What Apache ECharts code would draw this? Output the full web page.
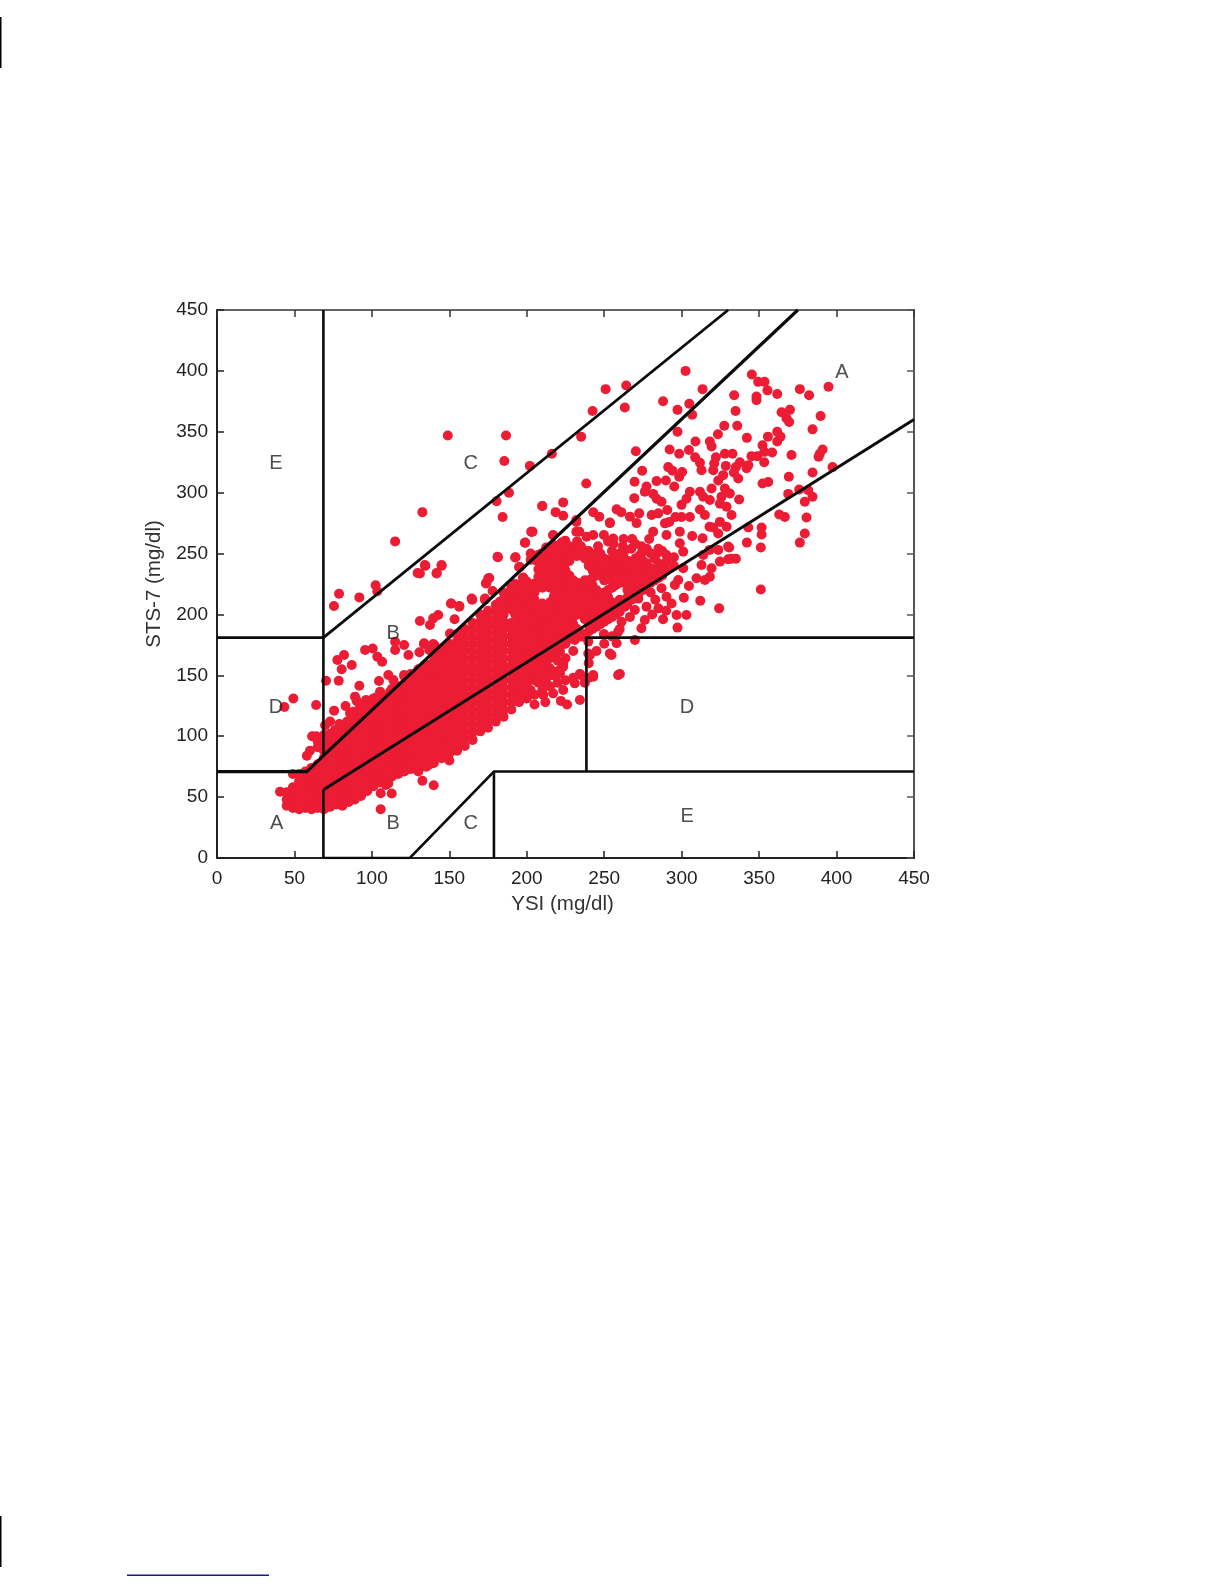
<!DOCTYPE html>
<html><head><meta charset="utf-8">
<style>html,body{margin:0;padding:0;background:#fff}#c{width:1224px;height:1584px}</style>
<script src="https://cdn.jsdelivr.net/npm/echarts@6/dist/echarts.min.js"></script>
</head><body><div id="c"></div>
<script>
var xName="YSI (mg/dl)", yName="STS-7 (mg/dl)";
// individually visible points
var sparsePoints=[[149,347],[186.6,347],[185.5,326],[202,322],[180.5,293],[188.5,300],[184.4,280],[132.6,284],[115,260],[134.5,240],[129.5,234],[141.8,234],[145,240],[102.4,224],[103.5,219],[78.8,217],[91.9,214],[75.5,207],[210,289],[203,268],[199,259],[181.4,247],[192.8,247],[195.6,239],[175.8,230],[174,226],[151.3,209],[156.5,207],[164.8,212],[173,212],
[302.5,400],[313.5,385],[345.3,397],[349.4,391],[353.5,391],[355.4,384],[361.7,381],[376.3,385],[382.3,380],[394.8,387],[333.9,380],[348.3,379],[348.3,376],[288,375],[304.9,373],[264.2,388],[250.9,385],[242.5,367],[263.3,370],[297.3,368],[306.8,364],[334.8,367],[369.9,368],[364.5,366],[367.7,361],[369.4,358],[389.7,363],[327.5,355],[335.9,355],[384.5,352],[235.1,346],[297.3,350],[323.4,348],[361.7,350],[363.8,346],[361.7,342],[355.7,346],[342.1,345],[308.9,342],[318.2,342],[319.3,338],[352.2,339],[353.3,333.5],[358.4,333],[304.7,335],[292.2,335.5],[270.4,334],[216.2,332],[298.4,332],[327.9,332],[332.8,332],[370.9,331],[391,335.5],[389.2,332],[388.4,329.5],[345.1,330],[348.8,330],[308.7,329],[322.1,329],[311.8,324.5],[321,324],[353.3,325],[337.6,325],[343,322.6],[328.5,322],[335,321],[312.8,318.5],[320.4,318.5],[274.5,318],[291.3,321],[294.1,318],[300.3,317],[384.5,316.6],[397.4,321],[333.7,316.6],[341.9,320],[298.4,313],[336.5,311.7],[369.2,313],[326.8,314.4],[323.6,310],[283.8,309.5],[289.8,310],[269.6,309],[355.9,308.7],[352.2,307.6],[238.4,307.6],[295.2,305],[277.3,305],[276.2,300.7],[319.3,303.4],[327.9,303.4],[281.6,299],[283.8,295],[287,292.5],[269.4,295.5],[305.3,300.7],[311.8,300.7],[303.1,295],[299.9,290],[313.9,296.6],[318.2,294],[325.7,296.6],[331.1,299.3],[337.1,294.4],[368.8,299],[375.9,302.6],[381.7,302],[384.5,296.6],[379.5,292.5],[324.7,291],[329,288.4],[332.2,281.6],[366.6,280],[363,282],[380.6,279.6],[379.5,266.5],[376.3,259],[343,271.4],[351.6,271.4],[351.6,265.7],[320.4,271.4],[324.7,276],[329,272],[323.6,266.5],[318,272],[342.1,259],[351.1,255],[330.7,255],[332.2,245.7],[335,245.7],[351.1,220.5],
[210,289],[223.5,292],[218.6,284],[223.5,281],[258,286.3],[261,284],[266.6,280.3],[272.6,283],[270.9,275],[253.6,275.4],[242.9,283.9],[246.8,280.3],[280.6,281.7],[284.9,283],[290.7,285.8],[289.2,274.8],[281.6,268],[290.2,265.3],[298.8,268],[306.8,264.4],[313.5,262.5],[298.8,258.4],[301,251.6],[232,276],[233.9,268],[224.8,260.3],[203.7,268],[217,265.3],[330,255.7],[330,245.3],[311.8,286.2],[315,281.6],[305.3,280],[299.9,280],[296,280],[292,276],[268,262],[274,256],[279,262],[284,250],[274,250],[262,256],[256,258],[246,256],
[313.9,248.8],[318,253],[323.6,253],[324.7,243.4],[319.3,237.9],[312.8,240.6],[309.6,229.7],[315,228.3],[318.2,231],[301,238],[297.8,228.3],[295.6,224.2],[304.7,223.4],[301.4,213.8],[312,211.3],[324.2,205],[297.3,189.2],[303.1,199.6],[296.7,199.6],[288,196],[293.5,209],[290.2,214.6],[287,221.5],[277.3,206.4],[276.2,195.5],[274,188.6],[269.8,179],[266.6,198],[269.8,203.7],[263.3,206.4],[261.2,194],[259,185.9],[258,176.3],[253.6,168],[260.1,151.1],[249.8,184],[239.7,177.7],[239.7,168],[242.9,150.3],[234.3,151.1],[223.5,159.9],[221.4,169.5],[231,179],[235.4,181.8],[207.4,162.6],[214.9,155.8],[218,153],[221.4,151.7],[223.5,157],[283,212],[280,218],[285,205],[281,200],[272,213],[290,203],
[49.3,131],[43.5,124],[64,125.6],[61.4,100],[70.4,145.6],[78.6,145.6],[75.6,121],[80.5,155],[77.7,162.6],[82,166.7],[87,158.5],[91.9,141.5],[89.1,132.5],[90.2,129],[83,124.8],[85.9,118.8],[82.9,107.3],[76.2,105],[69.8,109],[95.6,170.8],[100.5,172],[103.5,165.3],[106.6,161.2],[104.6,145.3],[110.6,150.3],[113.9,146.2],[115,177.6],[120.8,174.9],[115,170.8],[123.6,166.7],[130.7,168.9],[120.8,150.3],[133.7,176.3],[140.3,174.9],[96.2,129.7],[105.3,136.6],[111.7,136.6],[98.8,125.6],[94.5,118.8],[90.6,113.3],[64,100],[66,92],[60,88],[58,84],[73,112],[79,110],[84,112],[88,120],[92,126],[96,122],[100,130],[103,132],
[132.6,63.5],[139.9,59.7],[105.7,53.1],[105.7,40],[112.8,53],[110.6,61.3],[136.5,76.4],[138.6,77.7],[40.7,54.5],
[203,268],[198.8,258.9],[181.1,247.4],[192.5,246.8],[195,239],[134.2,240.5],[145,240.5],[141.8,233.7],[131,233.7],[175.1,229.6],[173.6,225.5],[164.4,213],[173,213],[151,209],[156.4,206.3],[142.8,199.5],[139.6,196.8],[137.5,191.3],[153.4,196],[131,194.6],[150.4,184.4],[133.6,175.7],[139.6,175.7],[137,170.8],[177.9,219.2],[187,214],[182.6,210.4],[197.7,230.4],[194.5,220],[199.9,221.4],[205.2,225.5],[209.5,250],[217,250],[212.3,241.9],[221.4,244.7],[217,265],[224.8,260.5],[232,267.9],[238.6,263.8],[242.9,265.2],[249.8,265.2],[255.8,262.4],[253.7,275],[232,277.5],
[221.4,154.3],[223.5,158.4],[234.3,150.8],[242.9,148.9],[237.5,144],[254.7,166.7],[240.8,166.7],[259,150.2],[231,143.4],[223.5,137.9],[217,135.2],[210.6,133.8],[203,135.2],[199.9,140.6],[195.6,135.2],[219.2,168],[212.8,157],[206.3,149],[210.6,143.4],[234.3,129.7],[191.3,131.1],[212,128],[226,126],[222,129],[205,126],[240,148]];
// dense mass: columns of estimated values, one x with its y values
var denseColumns=[
[45,[43,48,54]],[49,[41,46,52,58,69]],[53,[40,45,51,57,63,69]],[57,[41,47,53,59,65,71]],[61,[40,45,51,57,63,69,74]],
[65,[41,47,53,59,65,71,77,91,96]],[69,[40,46,52,58,64,70,76,82,88,95,101]],[73,[42,48,54,60,66,72,78,84,90,96,102]],
[77,[44,50,56,62,68,74,80,86,92,98]],[81,[43,49,55,61,67,73,79,85,91,97,103,109]],[85,[46,52,58,64,70,76,82,88,94,100,106,112]],
[89,[48,54,60,66,72,78,84,90,96,102,108,114]],[93,[51,57,63,69,75,81,87,93,99,105,111,117,123]],[97,[55,61,67,73,79,85,91,97,103,109,115,121]],
[101,[59,65,71,77,83,89,95,101,107,113,119,125,131]],[105,[62,68,74,80,86,92,98,104,110,116,122,128]],[109,[60,66,72,78,84,90,96,102,108,114,120,126,132]],
[113,[67,73,79,85,91,97,103,109,115,121,127,133,139]],[117,[69,75,81,87,93,99,105,111,117,123,129,135,141]],[121,[71,77,83,89,95,101,107,113,119,125,131,137,143,149]],
[125,[73,79,85,91,97,103,109,115,121,127,133,139,145,151]],[130,[71,77,83,89,95,101,107,113,119,125,131,137,143,149,155]],[135,[75,81,87,93,99,105,111,117,123,129,135,141,147,153,159]],
[140,[78,84,90,96,102,108,114,120,126,132,138,144,150,156,162,168]],[145,[82,88,94,100,106,112,118,124,130,136,142,148,154,160,166,172]],[150,[80,86,92,98,104,110,116,122,128,134,140,146,152,158,164,170,176]],
[155,[88,94,100,106,112,118,124,130,136,142,148,154,160,166,172,178,184]],[160,[92,98,104,110,116,122,128,134,140,146,152,158,164,170,176,182,188]],[165,[97,103,109,115,121,127,133,139,145,151,157,163,169,175,181,187,193]],
[170,[104,110,116,122,128,134,140,146,152,158,164,170,176,182,188,194,200]],[175,[107,113,119,125,131,137,143,149,155,161,167,173,179,185,191,197,203]],[180,[112,118,124,130,136,142,148,154,160,166,172,178,184,190,196,202,208]],
[185,[116,122,128,134,140,146,152,158,164,170,176,182,188,194,200,206,212,218]],[190,[122,128,134,140,146,152,158,164,170,176,182,188,193,204,210,216,222]],[195,[128,134,140,146,152,158,164,170,176,182,188,194,200,206,212,218,224]],
[200,[131,143,149,155,161,167,173,179,185,191,197,203,209,215,227]],[205,[134,146,158,164,170,176,182,188,194,200,206,212,218,225,245]],[210,[138,152,162,168,174,180,186,192,198,204,209,222,228,234,240,246]],
[215,[141,150,164,170,176,182,188,194,200,206,210,222,228,234,240,246,252]],[220,[144,162,172,178,184,190,196,202,208,214,220,226,232,238,244,250,256]],[225,[146,164,176,182,188,194,200,206,212,218,224,230,236,242,248,254]],
[230,[148,170,186,192,198,204,210,216,222,228,248,254]],[235,[150,184,200,206,212,218,224,250,256]],[240,[160,186,192,198,204,210,216,222,228,240,246,252]],
[245,[170,190,196,202,208,214,220,232,238,244,250]],[250,[176,194,200,206,212,218,228,234,240,246]],[255,[182,198,204,210,222,228,234,240,246,252]],
[260,[188,202,212,226,232,238,244,250]],[265,[208,214,220,232,238,244]],[270,[216,222,228,234,240,246,258]],
[275,[220,226,232,238,244]],[280,[226,232,238,250]],[285,[230,236,242,254]],[290,[236,243,249]],[295,[240,247]],
[192.5,[131,137,143,149,155,161,167,173,179,185,191,200,207,213,219,225]],[197.5,[134,146,152,158,164,170,176,182,188,194,200,206,212,218,224,230]],[202.5,[138,150,156,162,168,174,180,186,192,198,204,210,216,222,245,250]],
[207.5,[144,155,165,171,177,183,189,195,201,207,225,231,237,243,249]],[212.5,[147,160,170,176,182,188,194,200,206,225,231,237,243,249,255]],[217.5,[150,165,173,179,185,191,197,203,209,215,221,227,233,239,245,251,257]],
[222.5,[175,181,187,193,199,205,211,217,223,229,235,241,247,253,259]],[227.5,[180,190,196,202,208,214,220,226,232,244,250,256]],[232.5,[188,200,208,214,220,226,248,254,260]],
[237.5,[184,196,202,208,214,220,228,246,252]],[242.5,[188,194,200,206,212,218,224,230,236,242,248]],[247.5,[192,198,204,210,216,232,238,244,250]],
[252.5,[196,202,208,214,220,230,236,242,260]],[257.5,[200,206,224,230,236,242,248]],[262.5,[208,226,232,238,250,262]],
[267.5,[212,218,224,230,236,242,254]],[272.5,[218,224,230,236,248]],[277.5,[224,230,236,242,254]],[282.5,[228,234,246]],[287.5,[232,238,252]]
];
var lineA=[[0,71],[58,71],[68.7,84],[375,450]];
var lineUpperC=[[68.7,181],[330,450]];
var lineLowerA=[[68.7,56],[450,360]];
var lineV70a=[[68.7,84],[68.7,450]];
var lineV70b=[[68.7,0],[68.7,56]];
var lineD180=[[0,181],[68.7,181]];
var lineBottom=[[68.7,0],[124.5,0],[178.8,71],[450,71]];
var lineV180=[[178.8,0],[178.8,71]];
var lineV240=[[238.5,71],[238.5,181],[450,181]];
var zoneLabels=[["A",38.5,28.5],["B",113.8,28.5],["C",163.8,28.5],["E",303.5,34],["D",38,123.5],["B",113.8,184],["E",38,324],["C",163.8,324],["A",403.5,399],["D",303.5,123.5]];

var pts=sparsePoints.slice();
denseColumns.forEach(function(c){c[1].forEach(function(y){pts.push([c[0],y]);});});
function ln(d,w){return {type:'line',data:d,showSymbol:false,silent:true,z:5,animation:false,clip:true,lineStyle:{color:'#0b0b0b',width:w||2.8,cap:'butt',join:'miter'}};}
var ax={min:0,max:450,interval:50,splitLine:{show:false}};
var chart=echarts.init(document.getElementById('c'),null,{renderer:'canvas'});
var tickFont={color:'#222',fontFamily:'Liberation Sans',fontSize:19};
chart.setOption({
 backgroundColor:'#fff',animation:false,
 grid:{left:217,top:310,width:697,height:548,show:false},
 xAxis:[
  Object.assign({type:'value',position:'bottom',name:xName,nameLocation:'middle',nameGap:36,nameTextStyle:{color:'#333',fontFamily:'Liberation Sans',fontSize:20.5,padding:[0,6,0,0]},
   axisLine:{show:true,onZero:false,lineStyle:{color:'#222',width:2}},axisTick:{inside:true,length:7,lineStyle:{color:'#222',width:1.5}},axisLabel:Object.assign({margin:11},tickFont)},ax),
  Object.assign({type:'value',position:'top',axisLine:{show:true,onZero:false,lineStyle:{color:'#333',width:1.5}},axisTick:{inside:true,length:7,lineStyle:{color:'#333',width:1.5}},axisLabel:{show:false}},ax)],
 yAxis:[
  Object.assign({type:'value',position:'left',name:yName,nameLocation:'middle',nameGap:52,nameTextStyle:{color:'#333',fontFamily:'Liberation Sans',fontSize:20.5},
   axisLine:{show:true,onZero:false,lineStyle:{color:'#222',width:2}},axisTick:{inside:true,length:7,lineStyle:{color:'#222',width:1.5}},axisLabel:Object.assign({margin:9,verticalAlign:'middle',padding:[7,0,0,0]},tickFont)},ax),
  Object.assign({type:'value',position:'right',axisLine:{show:true,onZero:false,lineStyle:{color:'#555',width:2}},axisTick:{inside:true,length:7,lineStyle:{color:'#555',width:1.5}},axisLabel:{show:false}},ax)],
 series:[
  {type:'scatter',data:pts,symbol:'circle',symbolSize:10,silent:true,z:3,large:false,itemStyle:{color:'#EC1C35',opacity:1}},
  ln(lineA,3.2),ln(lineUpperC,2.8),ln(lineLowerA,3),ln(lineV70a,2.6),ln(lineV70b,2.6),ln(lineD180,2.6),ln(lineBottom,2.6),ln(lineV180,2.6),ln(lineV240,2.6),
  {type:'scatter',symbolSize:1,silent:true,z:6,itemStyle:{color:'transparent'},data:zoneLabels.map(function(l){return {value:[l[1],l[2]],label:{formatter:l[0]}};}),
   label:{show:true,position:'inside',color:'#222',fontFamily:'Liberation Sans',fontSize:20}}
 ],
 graphic:[
  {type:'rect',shape:{x:0,y:17,width:1.5,height:51},style:{fill:'#000'}},
  {type:'rect',shape:{x:0,y:1516,width:1.5,height:51},style:{fill:'#000'}},
  {type:'rect',shape:{x:127,y:1574.5,width:142,height:1.5},style:{fill:'#1c1c70'}}
 ]
});
</script></body></html>
